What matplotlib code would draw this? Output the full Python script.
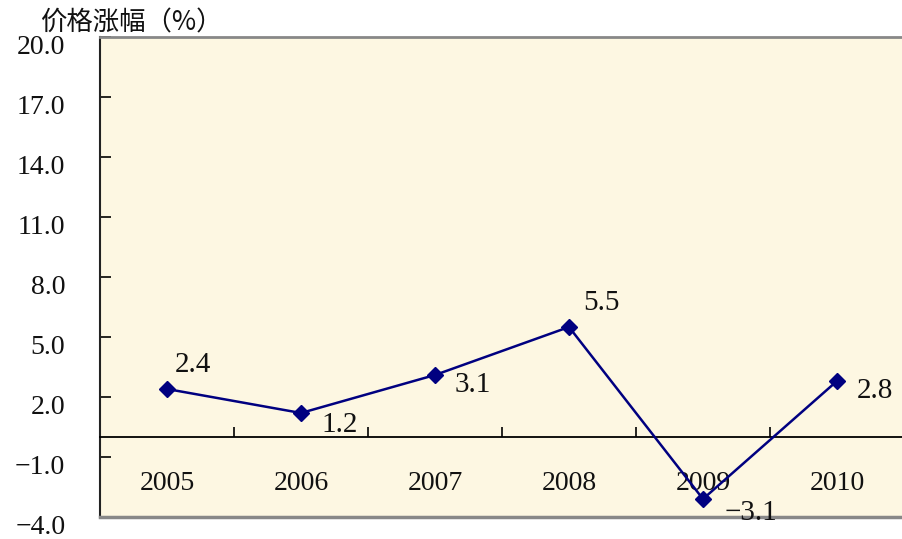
import numpy as np
import matplotlib
matplotlib.use("Agg")
import matplotlib.pyplot as plt
from matplotlib.transforms import offset_copy

years = ["2005", "2006", "2007", "2008", "2009", "2010"]
values = [2.4, 1.2, 3.1, 5.5, -3.1, 2.8]
y_ticks = [-4.0, -1.0, 2.0, 5.0, 8.0, 11.0, 14.0, 17.0, 20.0]
title = "价格涨幅（%）"
# label placement: (dx px, dy px) relative to point
label_off = [(8, 24), (20, -12), (20, -10), (14, 24), (22, -14), (20, -10)]

W, H = 902, 539
fig = plt.figure(figsize=(W / 100, H / 100), dpi=100)
fig.patch.set_facecolor("white")
ax = fig.add_axes([100 / W, 22 / H, 804 / W, 480 / H])
ax.set_facecolor("#FDF7E2")

serif = ["Liberation Serif", "DejaVu Serif"]
x = np.arange(len(years))
ax.plot(x, values, color="#000080", lw=1.8, marker="D", ms=8, mfc="#000080", mec="#000080", zorder=4)

ax.set_xlim(-0.5, len(years) - 0.5)
ax.set_ylim(y_ticks[0], y_ticks[-1])

# spines
ax.spines["right"].set_visible(False)
ax.spines["top"].set_color("#888888")
ax.spines["top"].set_linewidth(2)
ax.spines["left"].set_color("#222222")
ax.spines["left"].set_linewidth(1.5)
ax.spines["bottom"].set_position(("data", 0))
ax.spines["bottom"].set_color("black")
ax.spines["bottom"].set_linewidth(1.3)
ax.axhline(y_ticks[0], color="#888888", lw=2.5, clip_on=False, zorder=5)

# x ticks between categories
ax.set_xticks(np.arange(-0.5, len(years), 1.0))
ax.set_xticklabels([])
ax.tick_params(axis="x", direction="in", length=7, width=1.2, color="black")
for i, yr in enumerate(years):
    ax.text(i, -2.3, yr, ha="center", va="center", fontsize=20, family=serif, color="#111111")

# y ticks
ax.set_yticks(y_ticks)
ax.set_yticklabels([f"{v:.1f}".replace("-", "\u2212") for v in y_ticks], family=serif, fontsize=20, color="#111111")
ax.tick_params(axis="y", direction="in", length=8, width=1.2, pad=25)
for lab in ax.get_yticklabels():
    lab.set_transform(offset_copy(lab.get_transform(), fig=fig, x=0, y=-8, units="dots"))

# data labels
for i, (v, (dx, dy)) in enumerate(zip(values, label_off)):
    t = f"{v:.1f}".replace("-", "\u2212")
    ax.annotate(t, (i, v), xytext=(dx * 0.72, dy * 0.72), textcoords="offset points",
                ha="left", va="center", fontsize=21, family=serif, color="#111111", zorder=6)

fig.text(40 / W, 1 - 23 / H, title, ha="left", va="center", fontsize=19,
         family=["Noto Sans CJK SC", "DejaVu Sans"], color="#111111")

fig.savefig("out.png", dpi=100)
